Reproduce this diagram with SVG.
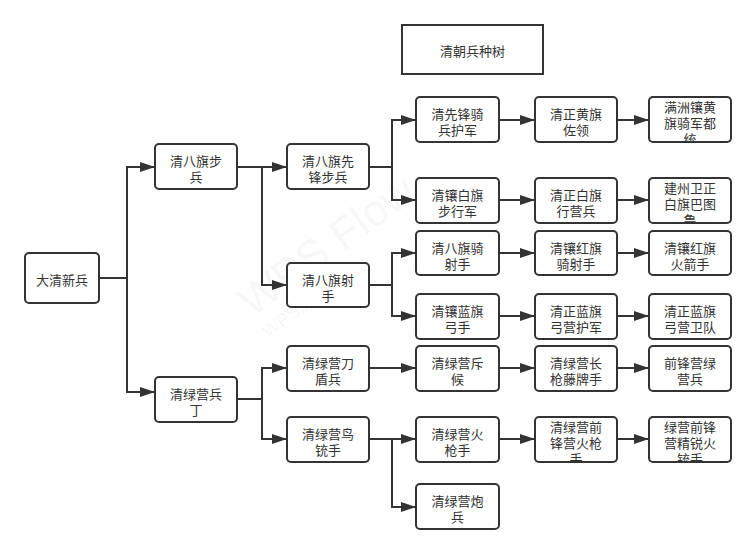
<svg xmlns="http://www.w3.org/2000/svg" width="756" height="555" viewBox="0 0 756 555">
<style>
.box{fill:#fff;stroke:#333;stroke-width:2}
.t{font-family:"Noto Sans CJK SC","Microsoft YaHei",sans-serif;font-size:13px;fill:#333;text-anchor:middle;dominant-baseline:central}
.c{fill:none;stroke:#333;stroke-width:2;marker-end:url(#ah)}
.wm{font-family:"Liberation Sans",sans-serif;fill:#000;fill-opacity:0.05}
</style>
<defs>
<marker id="ah" markerUnits="userSpaceOnUse" markerWidth="16" markerHeight="11" refX="15" refY="5" orient="auto">
<path d="M0,0 L15,5 L0,10 z" fill="#333"/>
</marker>
<clipPath id="k1"><rect x="650" y="98" width="80" height="43"/></clipPath>
<clipPath id="k2"><rect x="650" y="179" width="80" height="43"/></clipPath>
<clipPath id="k3"><rect x="536" y="418" width="80" height="43"/></clipPath>
<clipPath id="k4"><rect x="650" y="418" width="80" height="43"/></clipPath>
</defs>
<rect width="756" height="555" fill="#fff"/>
<g id="watermark">
<text class="wm" x="0" y="0" font-size="44" transform="translate(252,318) rotate(-36)">WPS Flow</text>
<text class="wm" x="0" y="0" font-size="18" transform="translate(268,338) rotate(-36)" font-family="Noto Sans CJK SC,sans-serif">WPS流程图</text>
</g>
<g id="connectors">
<path class="c" d="M99,278 H127 V167 H155"/>
<path class="c" d="M127,278 V392 H155"/>
<path class="c" d="M237,167 H287"/>
<path class="c" d="M262,167 V285 H287"/>
<path class="c" d="M237,399 H262 V368 H287"/>
<path class="c" d="M262,399 V439 H287"/>
<path class="c" d="M369,167 H392 V120 H416"/>
<path class="c" d="M392,167 V200 H416"/>
<path class="c" d="M369,285 H392 V253 H416"/>
<path class="c" d="M392,285 V316 H416"/>
<path class="c" d="M369,368 H416"/>
<path class="c" d="M369,439 H416"/>
<path class="c" d="M392,439 V507 H416"/>
<path class="c" d="M499,120 H535"/><path class="c" d="M617,120 H649"/>
<path class="c" d="M499,200 H535"/><path class="c" d="M617,200 H649"/>
<path class="c" d="M499,253 H535"/><path class="c" d="M617,253 H649"/>
<path class="c" d="M499,316 H535"/><path class="c" d="M617,316 H649"/>
<path class="c" d="M499,368 H535"/><path class="c" d="M617,368 H649"/>
<path class="c" d="M499,439 H535"/><path class="c" d="M617,439 H649"/>
</g>
<g id="title"><rect x="402" y="25" width="141" height="49" fill="#fff" stroke="#333" stroke-width="2"/><text class="t" x="472.5" y="50">清朝兵种树</text></g>
<g id="n0"><rect class="box" x="25" y="253" width="74" height="50" rx="4"/><text class="t" x="62" y="279">大清新兵</text></g>
<g id="n1"><rect class="box" x="155" y="144" width="82" height="45" rx="4"/><text class="t" x="196" y="160"><tspan x="196">清八旗步</tspan><tspan x="196" dy="16">兵</tspan></text></g>
<g id="n2"><rect class="box" x="155" y="377" width="82" height="45" rx="4"/><text class="t" x="196" y="393"><tspan x="196">清绿营兵</tspan><tspan x="196" dy="16">丁</tspan></text></g>
<g id="n3"><rect class="box" x="287" y="144" width="82" height="45" rx="4"/><text class="t" x="328" y="160"><tspan x="328">清八旗先</tspan><tspan x="328" dy="16">锋步兵</tspan></text></g>
<g id="n4"><rect class="box" x="287" y="263" width="82" height="44" rx="4"/><text class="t" x="328" y="279"><tspan x="328">清八旗射</tspan><tspan x="328" dy="16">手</tspan></text></g>
<g id="n5"><rect class="box" x="287" y="346" width="82" height="45" rx="4"/><text class="t" x="328" y="362"><tspan x="328">清绿营刀</tspan><tspan x="328" dy="16">盾兵</tspan></text></g>
<g id="n6"><rect class="box" x="287" y="417" width="82" height="45" rx="4"/><text class="t" x="328" y="433"><tspan x="328">清绿营鸟</tspan><tspan x="328" dy="16">铳手</tspan></text></g>
<g id="n7"><rect class="box" x="416" y="97" width="83" height="45" rx="4"/><text class="t" x="457.5" y="113"><tspan x="457.5">清先锋骑</tspan><tspan x="457.5" dy="16">兵护军</tspan></text></g>
<g id="n8"><rect class="box" x="416" y="178" width="83" height="45" rx="4"/><text class="t" x="457.5" y="194"><tspan x="457.5">清镶白旗</tspan><tspan x="457.5" dy="16">步行军</tspan></text></g>
<g id="n9"><rect class="box" x="416" y="231" width="83" height="44" rx="4"/><text class="t" x="457.5" y="246.5"><tspan x="457.5">清八旗骑</tspan><tspan x="457.5" dy="16">射手</tspan></text></g>
<g id="n10"><rect class="box" x="416" y="294" width="83" height="45" rx="4"/><text class="t" x="457.5" y="310"><tspan x="457.5">清镶蓝旗</tspan><tspan x="457.5" dy="16">弓手</tspan></text></g>
<g id="n11"><rect class="box" x="416" y="346" width="83" height="45" rx="4"/><text class="t" x="457.5" y="362"><tspan x="457.5">清绿营斥</tspan><tspan x="457.5" dy="16">候</tspan></text></g>
<g id="n12"><rect class="box" x="416" y="417" width="83" height="45" rx="4"/><text class="t" x="457.5" y="433"><tspan x="457.5">清绿营火</tspan><tspan x="457.5" dy="16">枪手</tspan></text></g>
<g id="n13"><rect class="box" x="416" y="484" width="83" height="45" rx="4"/><text class="t" x="457.5" y="500"><tspan x="457.5">清绿营炮</tspan><tspan x="457.5" dy="16">兵</tspan></text></g>
<g id="n14"><rect class="box" x="535" y="97" width="82" height="45" rx="4"/><text class="t" x="576" y="113"><tspan x="576">清正黄旗</tspan><tspan x="576" dy="16">佐领</tspan></text></g>
<g id="n15"><rect class="box" x="535" y="178" width="82" height="45" rx="4"/><text class="t" x="576" y="194"><tspan x="576">清正白旗</tspan><tspan x="576" dy="16">行营兵</tspan></text></g>
<g id="n16"><rect class="box" x="535" y="231" width="82" height="44" rx="4"/><text class="t" x="576" y="246.5"><tspan x="576">清镶红旗</tspan><tspan x="576" dy="16">骑射手</tspan></text></g>
<g id="n17"><rect class="box" x="535" y="294" width="82" height="45" rx="4"/><text class="t" x="576" y="310"><tspan x="576">清正蓝旗</tspan><tspan x="576" dy="16">弓营护军</tspan></text></g>
<g id="n18"><rect class="box" x="535" y="346" width="82" height="45" rx="4"/><text class="t" x="576" y="362"><tspan x="576">清绿营长</tspan><tspan x="576" dy="16">枪藤牌手</tspan></text></g>
<g id="n19"><rect class="box" x="535" y="417" width="82" height="45" rx="4"/><g clip-path="url(#k3)"><text class="t" x="576" y="426"><tspan x="576">清绿营前</tspan><tspan x="576" dy="16">锋营火枪</tspan><tspan x="576" dy="16">手</tspan></text></g></g>
<g id="n20"><rect class="box" x="649" y="97" width="82" height="45" rx="4"/><g clip-path="url(#k1)"><text class="t" x="690" y="106"><tspan x="690">满洲镶黄</tspan><tspan x="690" dy="16">旗骑军都</tspan><tspan x="690" dy="16">统</tspan></text></g></g>
<g id="n21"><rect class="box" x="649" y="178" width="82" height="45" rx="4"/><g clip-path="url(#k2)"><text class="t" x="690" y="187"><tspan x="690">建州卫正</tspan><tspan x="690" dy="16">白旗巴图</tspan><tspan x="690" dy="16">鲁</tspan></text></g></g>
<g id="n22"><rect class="box" x="649" y="231" width="82" height="44" rx="4"/><text class="t" x="690" y="246.5"><tspan x="690">清镶红旗</tspan><tspan x="690" dy="16">火箭手</tspan></text></g>
<g id="n23"><rect class="box" x="649" y="294" width="82" height="45" rx="4"/><text class="t" x="690" y="310"><tspan x="690">清正蓝旗</tspan><tspan x="690" dy="16">弓营卫队</tspan></text></g>
<g id="n24"><rect class="box" x="649" y="346" width="82" height="45" rx="4"/><text class="t" x="690" y="362"><tspan x="690">前锋营绿</tspan><tspan x="690" dy="16">营兵</tspan></text></g>
<g id="n25"><rect class="box" x="649" y="417" width="82" height="45" rx="4"/><g clip-path="url(#k4)"><text class="t" x="690" y="426"><tspan x="690">绿营前锋</tspan><tspan x="690" dy="16">营精锐火</tspan><tspan x="690" dy="16">铳手</tspan></text></g></g>
</svg>
